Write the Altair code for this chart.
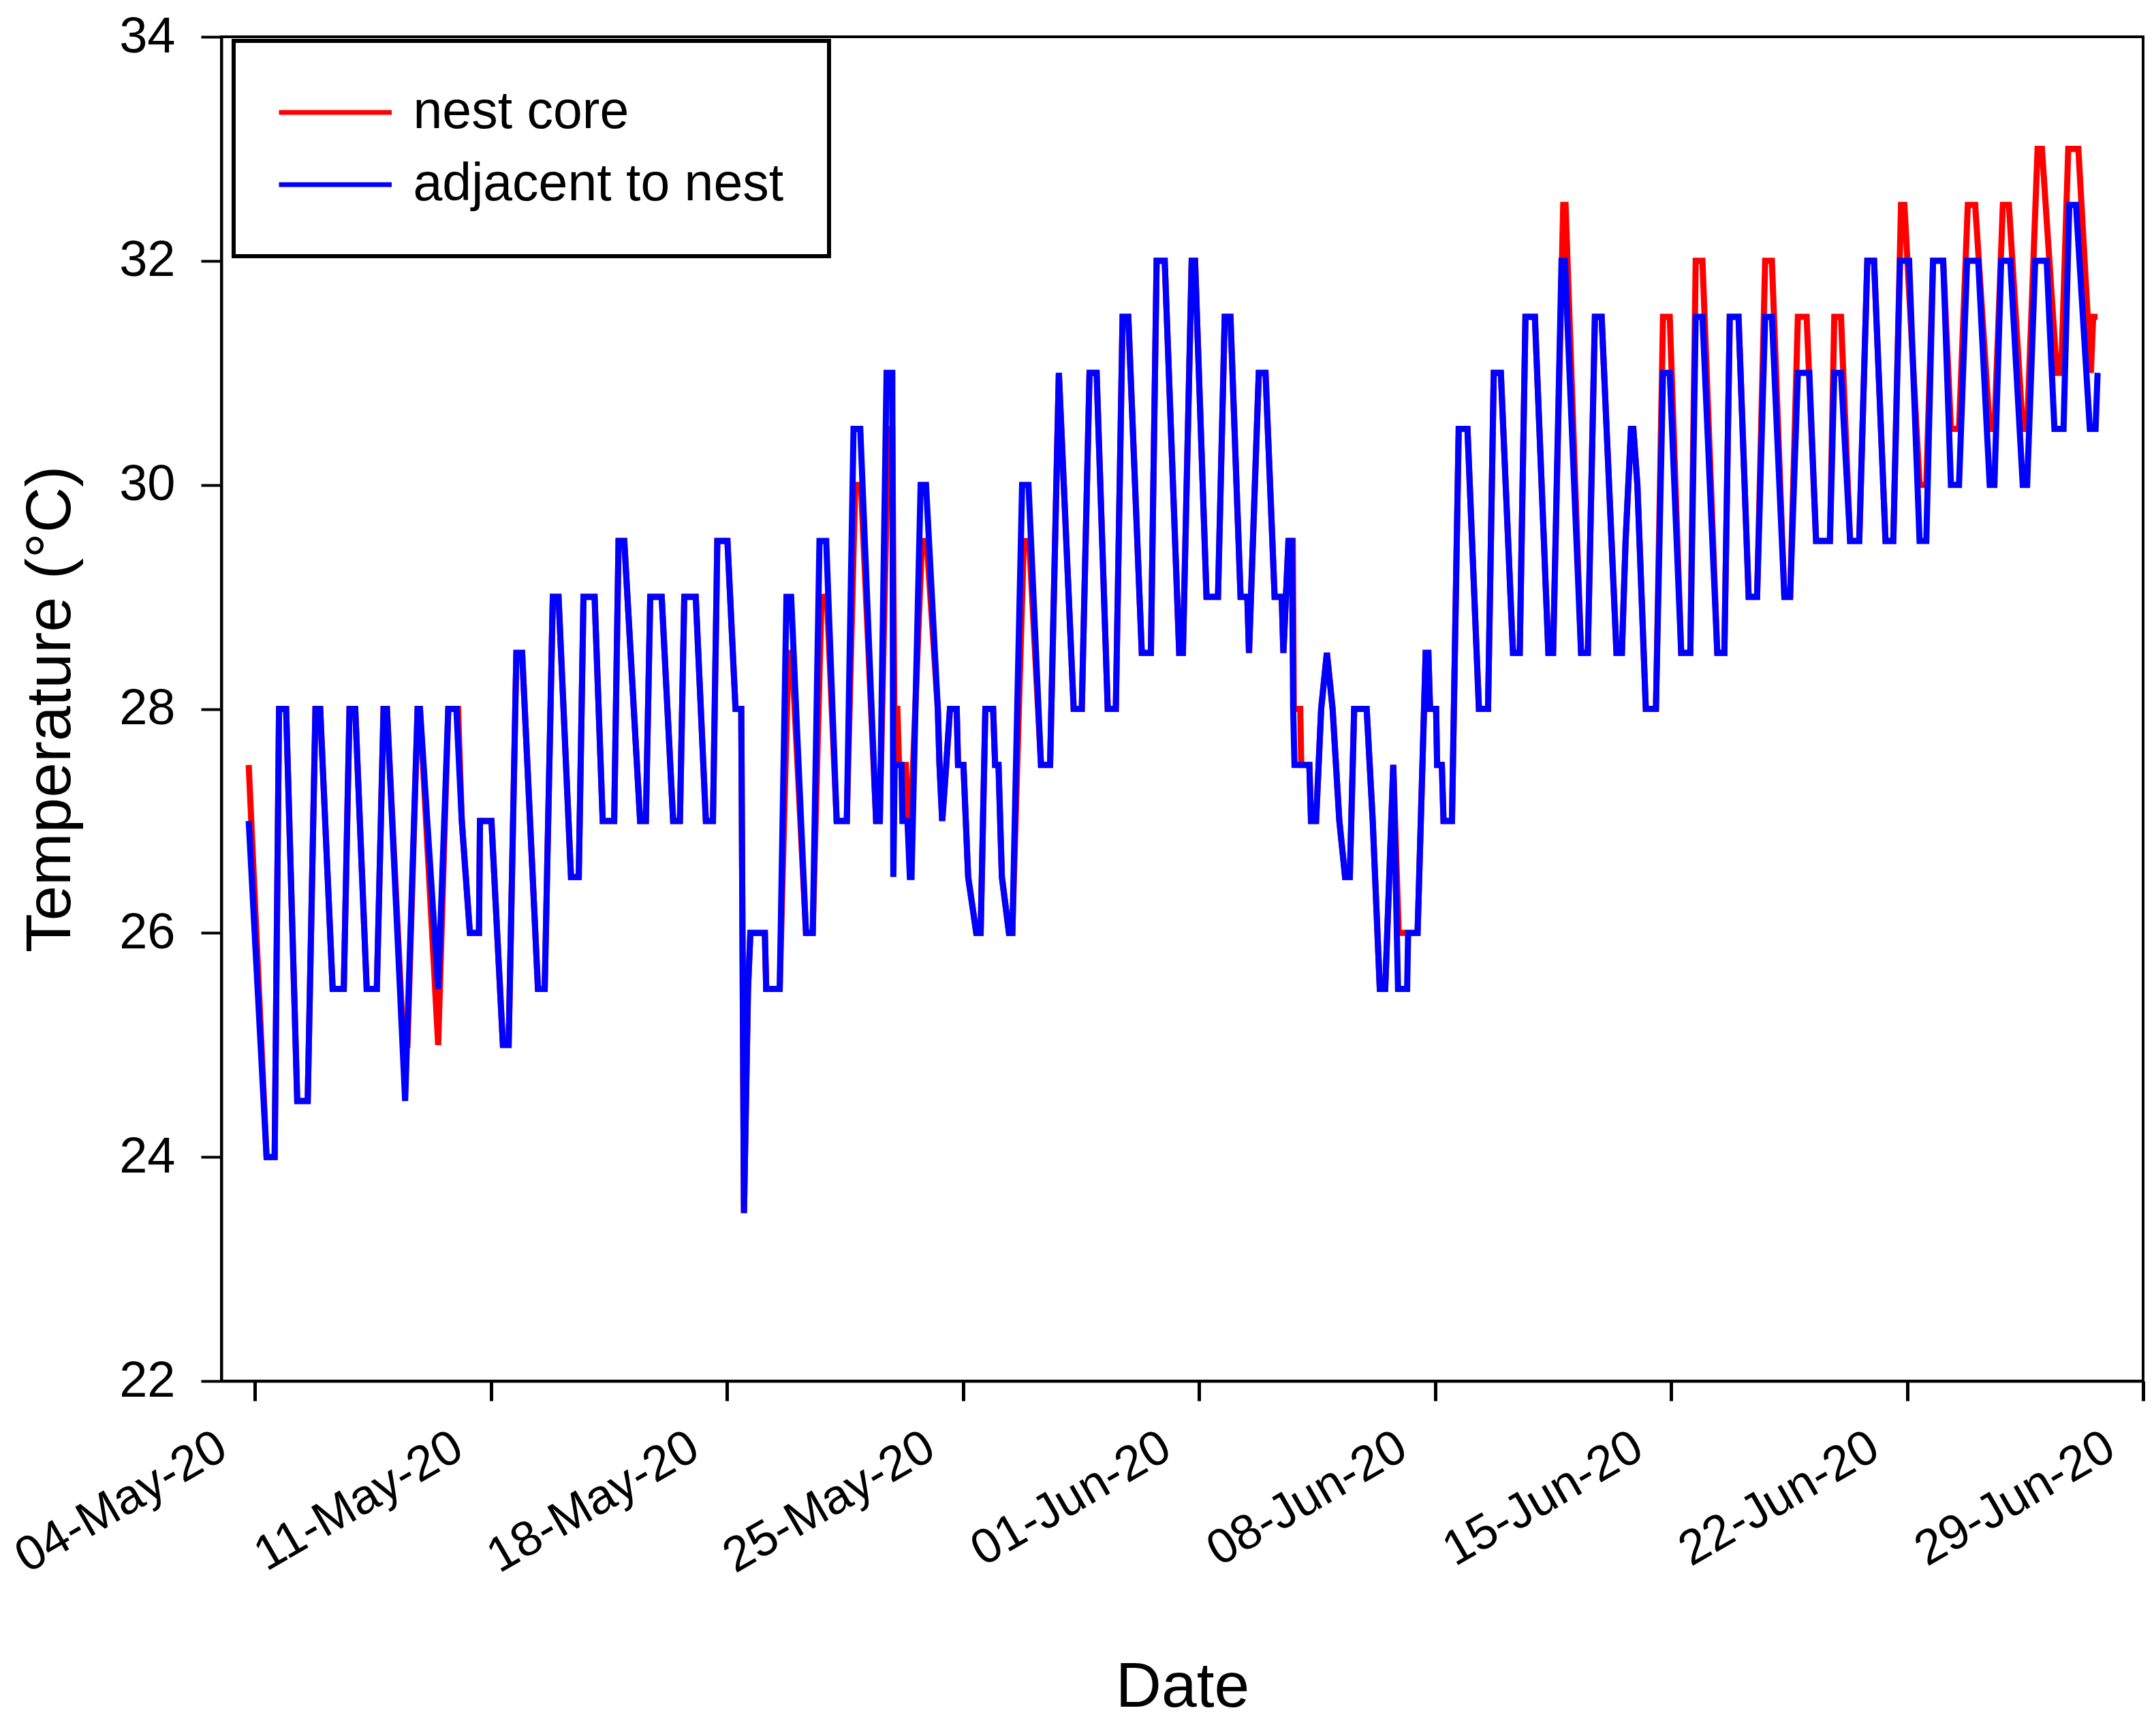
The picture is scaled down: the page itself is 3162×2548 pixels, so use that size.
import altair as alt
import pandas as pd

START = pd.Timestamp("2020-05-04 00:00")

# adjacent to nest (blue): day offsets from 04-May-20 00:00 and temperatures (°C)
adj_days = [-0.19, 0.34, 0.58, 0.71, 0.92, 1.25, 1.56, 1.79, 1.93, 2.3, 2.63, 2.8, 2.97, 3.31, 3.61, 3.81, 3.91,
            4.45, 4.82, 4.89, 5.43, 5.73, 5.97, 6.13, 6.37, 6.64, 6.67, 7.01, 7.35, 7.52, 7.75, 7.92, 8.39, 8.59,
            8.83, 9.0, 9.37, 9.6, 9.74, 10.07, 10.31, 10.65, 10.78, 10.95, 11.42, 11.59, 11.72, 12.06, 12.4, 12.6,
            12.73, 13.07, 13.37, 13.58, 13.71, 14.01, 14.25, 14.42, 14.5, 14.62, 14.69, 15.12, 15.16, 15.56, 15.76,
            15.9, 16.34, 16.54, 16.74, 16.94, 17.25, 17.55, 17.75, 17.95, 18.42, 18.53, 18.73, 18.9, 18.93, 18.97,
            19.17, 19.2, 19.35, 19.42, 19.47, 19.74, 19.9, 20.25, 20.3, 20.38, 20.5, 20.61, 20.81, 20.85, 21.01,
            21.15, 21.39, 21.52, 21.66, 21.89, 21.95, 22.05, 22.15, 22.36, 22.46, 22.75, 22.94, 23.31, 23.58, 23.84,
            24.28, 24.52, 24.75, 24.96, 25.29, 25.53, 25.73, 25.9, 26.3, 26.57, 26.74, 26.98, 27.41, 27.52, 27.78,
            27.88, 28.22, 28.56, 28.76, 28.93, 29.23, 29.43, 29.48, 29.77, 29.97, 30.24, 30.45, 30.5, 30.65, 30.75,
            30.79, 30.83, 31.27, 31.32, 31.47, 31.62, 31.79, 31.96, 32.16, 32.33, 32.47, 32.6, 32.97, 33.15, 33.36,
            33.52, 33.76, 33.9, 34.17, 34.2, 34.48, 34.72, 34.8, 34.85, 35.03, 35.06, 35.2, 35.25, 35.5, 35.7, 35.96,
            36.3, 36.57, 36.74, 36.95, 37.31, 37.51, 37.68, 37.96, 38.36, 38.5, 38.75, 38.85, 39.33, 39.53, 39.74,
            39.94, 40.38, 40.54, 40.65, 40.81, 40.88, 41.0, 41.25, 41.55, 41.76, 41.96, 42.3, 42.57, 42.73, 42.93,
            43.37, 43.58, 43.74, 44.0, 44.3, 44.55, 44.79, 44.99, 45.36, 45.53, 45.76, 46.1, 46.3, 46.71, 46.84,
            47.04, 47.31, 47.58, 47.82, 48.02, 48.36, 48.59, 48.79, 49.06, 49.37, 49.57, 49.77, 50.07, 50.3, 50.54,
            50.78, 51.11, 51.45, 51.59, 51.79, 52.06, 52.43, 52.56, 52.8, 53.14, 53.37, 53.64, 53.81, 54.01, 54.42,
            54.59, 54.65]
adj_temps = [27, 24, 24, 28, 28, 24.5, 24.5, 28, 28, 25.5, 25.5, 28, 28, 25.5, 25.5, 28, 28,
             24.5, 28, 28, 25.5, 28, 28, 27, 26, 26, 27, 27, 25, 25, 28.5, 28.5, 25.5, 25.5,
             29, 29, 26.5, 26.5, 29, 29, 27, 27, 29.5, 29.5, 27, 27, 29, 29, 27, 27,
             29, 29, 27, 27, 29.5, 29.5, 28, 28, 23.5, 25.5, 26, 26, 25.5, 25.5, 29,
             29, 26, 26, 29.5, 29.5, 27, 27, 30.5, 30.5, 27, 27, 31, 31, 26.5, 27.5,
             27.5, 27, 27, 26.5, 26.5, 30, 30, 28, 27.5, 27, 27.5, 28, 28, 27.5, 27.5,
             26.5, 26, 26, 28, 28, 27.5, 27.5, 26.5, 26, 26, 30, 30, 27.5, 27.5, 31,
             28, 28, 31, 31, 28, 28, 31.5, 31.5, 28.5, 28.5, 32, 32, 28.5, 28.5, 32,
             32, 29, 29, 31.5, 31.5, 29, 29, 28.5, 31, 31, 29, 29, 28.5, 29.5, 29.5,
             28, 27.5, 27.5, 27, 27, 28, 28.5, 28, 27, 26.5, 26.5, 28, 28, 27, 25.5,
             25.5, 27.5, 25.5, 25.5, 26, 26, 28.5, 28.5, 28, 28, 27.5, 27.5, 27, 27, 30.5, 30.5,
             28, 28, 31, 31, 28.5, 28.5, 31.5, 31.5, 28.5, 28.5, 32, 32, 28.5, 28.5, 31.5,
             31.5, 28.5, 28.5, 29.5, 30.5, 30.5, 30, 28, 28, 31, 31, 28.5, 28.5, 31.5, 31.5,
             28.5, 28.5, 31.5, 31.5, 29, 29, 31.5, 31.5, 29, 29, 31, 31, 29.5, 29.5, 31,
             31, 29.5, 29.5, 32, 32, 29.5, 29.5, 32, 32, 29.5, 29.5, 32, 32, 30, 30,
             32, 32, 30, 30, 32, 32, 30, 30, 32, 32, 30.5, 30.5, 32.5, 32.5, 30.5,
             30.5, 31]

# nest core (red)
core_days = [-0.19, 0.34, 0.58, 0.71, 0.92, 1.25, 1.56, 1.79, 1.93, 2.3, 2.63, 2.8, 2.97, 3.31, 3.61, 3.81, 3.91,
             4.4, 4.52, 4.82, 4.89, 5.43, 5.73, 6.02, 6.13, 6.37, 6.64, 6.67, 7.01, 7.35, 7.52, 7.75, 7.92, 8.39, 8.59,
             8.83, 9.0, 9.37, 9.6, 9.74, 10.07, 10.31, 10.65, 10.78, 10.95, 11.42, 11.59, 11.72, 12.06, 12.4, 12.6,
             12.73, 13.07, 13.37, 13.58, 13.71, 14.01, 14.25, 14.42, 14.5, 14.62, 14.69, 15.12, 15.16, 15.56, 15.82,
             15.92, 16.34, 16.54, 16.8, 16.96, 17.25, 17.55, 17.8, 17.97, 18.42, 18.53, 18.78, 18.9, 18.96, 19.05,
             19.1, 19.3, 19.37, 19.45, 19.78, 19.92, 20.25, 20.3, 20.38, 20.5, 20.61, 20.81, 20.85, 21.01,
             21.15, 21.39, 21.52, 21.66, 21.89, 21.95, 22.05, 22.15, 22.36, 22.46, 22.8, 22.96, 23.31, 23.58, 23.84,
             24.28, 24.52, 24.75, 24.96, 25.29, 25.53, 25.73, 25.9, 26.3, 26.57, 26.74, 26.98, 27.41, 27.52, 27.78,
             27.88, 28.22, 28.56, 28.76, 28.93, 29.23, 29.43, 29.48, 29.77, 29.97, 30.24, 30.45, 30.5, 30.65, 30.78,
             30.81, 31.0, 31.03, 31.27, 31.32, 31.47, 31.62, 31.79, 31.96, 32.16, 32.33, 32.47, 32.6, 32.97, 33.15,
             33.36, 33.52, 33.76, 33.92, 34.48, 34.72, 34.8, 34.85, 35.03, 35.06, 35.2, 35.25, 35.5, 35.7, 35.96,
             36.3, 36.57, 36.74, 36.95, 37.31, 37.51, 37.68, 37.96, 38.36, 38.5, 38.8, 38.87, 39.33, 39.53, 39.74,
             39.94, 40.38, 40.54, 40.65, 40.81, 40.88, 41.0, 41.25, 41.55, 41.76, 41.96, 42.3, 42.57, 42.73, 42.93,
             43.37, 43.58, 43.74, 44.0, 44.3, 44.55, 44.79, 44.99, 45.36, 45.53, 45.76, 46.02, 46.3, 46.71, 46.84,
             47.04, 47.31, 47.58, 47.82, 48.02, 48.36, 48.59, 48.82, 48.92, 49.37, 49.57, 49.77, 50.07, 50.3, 50.54,
             50.8, 51.02, 51.45, 51.59, 51.84, 52.02, 52.43, 52.56, 52.87, 53.0, 53.44, 53.57, 53.78, 54.08, 54.45,
             54.52, 54.65]
core_temps = [27.5, 24, 24, 28, 28, 24.5, 24.5, 28, 28, 25.5, 25.5, 28, 28, 25.5, 25.5, 28, 28,
              25, 25, 28, 28, 25, 28, 28, 27, 26, 26, 27, 27, 25, 25, 28.5, 28.5, 25.5, 25.5,
              29, 29, 26.5, 26.5, 29, 29, 27, 27, 29.5, 29.5, 27, 27, 29, 29, 27, 27,
              29, 29, 27, 27, 29.5, 29.5, 28, 28, 23.5, 25.5, 26, 26, 25.5, 25.5, 28.5,
              28.5, 26, 26, 29, 29, 27, 27, 30, 30, 27, 27, 30.5, 30.5, 28, 28,
              27.5, 27.5, 27, 27, 29.5, 29.5, 28, 27.5, 27, 27.5, 28, 28, 27.5, 27.5,
              26.5, 26, 26, 28, 28, 27.5, 27.5, 26.5, 26, 26, 29.5, 29.5, 27.5, 27.5, 31,
              28, 28, 31, 31, 28, 28, 31.5, 31.5, 28.5, 28.5, 32, 32, 28.5, 28.5, 32,
              32, 29, 29, 31.5, 31.5, 29, 29, 28.5, 31, 31, 29, 29, 28.5, 29.5, 29.5,
              28, 28, 27.5, 27.5, 27, 27, 28, 28.5, 28, 27, 26.5, 26.5, 28, 28, 27,
              25.5, 25.5, 27.5, 26, 26, 28.5, 28.5, 28, 28, 27.5, 27.5, 27, 27, 30.5, 30.5,
              28, 28, 31, 31, 28.5, 28.5, 31.5, 31.5, 28.5, 28.5, 32.5, 32.5, 28.5, 28.5, 31.5,
              31.5, 28.5, 28.5, 29.5, 30.5, 30.5, 30, 28, 28, 31.5, 31.5, 28.5, 28.5, 32, 32,
              28.5, 28.5, 31.5, 31.5, 29, 29, 32, 32, 29, 29, 31.5, 31.5, 29.5, 29.5, 31.5,
              31.5, 29.5, 29.5, 32, 32, 29.5, 29.5, 32.5, 32.5, 30, 30, 32, 32, 30.5, 30.5,
              32.5, 32.5, 30.5, 30.5, 32.5, 32.5, 30.5, 30.5, 33, 33, 31, 31, 33, 33, 31,
              31.5, 31.5]

series_names = ["nest core", "adjacent to nest"]
series_colors = ["#ff0000", "#0000ff"]
y_ticks = [22, 24, 26, 28, 30, 32, 34]
x_tick_dates = [(2020, 5, 4), (2020, 5, 11), (2020, 5, 18), (2020, 5, 25), (2020, 6, 1),
                (2020, 6, 8), (2020, 6, 15), (2020, 6, 22), (2020, 6, 29)]


def frame(days, temps, name):
    t = [(START + pd.Timedelta(days=d)).strftime("%Y-%m-%dT%H:%M:%S") for d in days]
    return pd.DataFrame({"time": t, "temp": temps, "series": name})


df = pd.concat([frame(core_days, core_temps, series_names[0]),
                frame(adj_days, adj_temps, series_names[1])], ignore_index=True)

FONT = "Liberation Sans"

x_enc = alt.X(
    "time:T",
    scale=alt.Scale(domain=[alt.DateTime(year=2020, month=5, date=3),
                            alt.DateTime(year=2020, month=6, date=29)], nice=False),
    axis=alt.Axis(
        values=[alt.DateTime(year=y, month=m, date=d) for (y, m, d) in x_tick_dates],
        format="%d-%b-%y", labelAngle=-30, labelAlign="right", labelBaseline="middle",
        labelPadding=62, labelOffset=-48, tickSize=29, tickWidth=5, labelLimit=2000,
        labelFontSize=72, titleFontSize=93, titlePadding=204,
        labelFlush=False, labelOverlap=False, grid=False,
    ),
    title="Date",
)
y_enc = alt.Y(
    "temp:Q",
    scale=alt.Scale(domain=[22, 34], nice=False, zero=False),
    axis=alt.Axis(values=y_ticks, format="d", tickSize=30, tickWidth=4, labelPadding=38,
                  titlePadding=52, labelFontSize=74, titleFontSize=93, grid=False),
    title="Temperature (°C)",
)
color_enc = alt.Color(
    "series:N",
    scale=alt.Scale(domain=series_names, range=series_colors),
    legend=alt.Legend(title=None, orient="none", legendX=18, legendY=6,
                      symbolType="stroke", symbolSize=36864, symbolStrokeWidth=7,
                      labelFontSize=77, labelFont=FONT, labelLimit=2000, clipHeight=77,
                      rowPadding=28, padding=66.5, symbolOffset=-30, labelOffset=28,
                      strokeColor="black", fillColor="white"),
)

base = alt.Chart(df).mark_line(strokeWidth=9).encode(x=x_enc, y=y_enc, color=color_enc)
red = base.transform_filter(alt.datum.series == series_names[0])
blue = base.transform_filter(alt.datum.series == series_names[1])

chart = alt.layer(red, blue).properties(
    width=2821, height=1973,
    padding={"left": 317, "top": 46, "right": 4, "bottom": 509},
    autosize=alt.AutoSizeParams(type="none"),
).configure_axis(
    labelFont=FONT, titleFont=FONT, labelColor="black", titleColor="black",
    titleFontWeight="normal", domainColor="black", domainWidth=4, tickColor="black",
).configure_view(
    stroke="black", strokeWidth=4,
).configure_legend(
    strokeWidth=6, labelColor="black",
)

chart.save("out.html", embed_options={"renderer": "svg", "actions": False})
